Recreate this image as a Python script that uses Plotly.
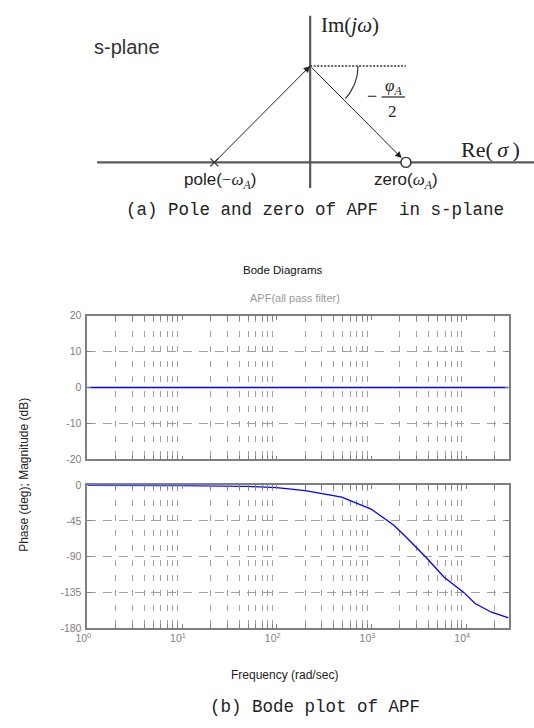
import numpy as np
import plotly.graph_objects as go

W, H = 534, 728

# ---------------- data ----------------
freq_mag = [1, 28000]
mag_db = [0, 0]

freq_phase = [1, 10, 50, 100, 200, 485, 990, 1710, 2260, 3780, 5850, 9420, 12400, 18500, 28000]
phase_deg = [0, -0.3, -1.5, -3, -6.7, -14.9, -30, -50, -64, -91, -116, -135, -149, -160, -167]

mag_ticks = [-20, -10, 0, 10, 20]
mag_tick_text = ["-20", "-10", "0", "10", "20"]
phase_ticks = [-180, -135, -90, -45, 0]
phase_tick_text = ["-180", "-135", "-90", "-45", "0"]
decade_vals = [1, 10, 100, 1000, 10000]
decade_text = ["10<sup>0</sup>", "10<sup>1</sup>", "10<sup>2</sup>", "10<sup>3</sup>", "10<sup>4</sup>"]
minor_vals = [m * d for d in [1, 10, 100, 1000, 10000] for m in range(2, 10)]

# s-plane diagram (normalised units)
pole_sigma = [-1]
zero_sigma = [1]
apex_omega = 1
real_axis_sigma = [-2.224, 2.337]
imag_axis_omega = [-0.265, 1.52]

# ---------------- helpers ----------------
def px(x):
    return x / W

def py(y):
    return 1 - y / H

fig = go.Figure()

# Bode magnitude
fig.add_trace(go.Scatter(x=freq_mag, y=mag_db, xaxis="x", yaxis="y", mode="lines",
                         line=dict(color="#0000ff", width=1.5), showlegend=False, hoverinfo="skip"))
# Bode phase
fig.add_trace(go.Scatter(x=freq_phase, y=phase_deg, xaxis="x2", yaxis="y2", mode="lines",
                         line=dict(color="#0000ff", width=1.3), showlegend=False, hoverinfo="skip"))

# s-plane axes
axcol = "#5a5a5a"
fig.add_trace(go.Scatter(x=real_axis_sigma, y=[0, 0], xaxis="x3", yaxis="y3", mode="lines",
                         line=dict(color=axcol, width=2.2), showlegend=False, hoverinfo="skip"))
fig.add_trace(go.Scatter(x=[0, 0], y=imag_axis_omega, xaxis="x3", yaxis="y3", mode="lines",
                         line=dict(color=axcol, width=2.2), showlegend=False, hoverinfo="skip"))
# dotted horizontal reference at apex
fig.add_trace(go.Scatter(x=[0, zero_sigma[0]], y=[apex_omega, apex_omega], xaxis="x3", yaxis="y3",
                         mode="lines", line=dict(color="#333333", width=1.3, dash="2px,1.5px"),
                         showlegend=False, hoverinfo="skip"))
# angle arc
ang = np.linspace(0, -np.pi / 4 * 0.95, 30)
r = 0.5
fig.add_trace(go.Scatter(x=r * np.cos(ang), y=apex_omega + r * np.sin(ang), xaxis="x3", yaxis="y3",
                         mode="lines", line=dict(color="#333333", width=1.2),
                         showlegend=False, hoverinfo="skip"))
# pole and zero
fig.add_trace(go.Scatter(x=pole_sigma, y=[0], xaxis="x3", yaxis="y3", mode="markers",
                         marker=dict(symbol="x-thin-open", size=8, color="#333333",
                                     line=dict(color="#333333", width=1.3)),
                         showlegend=False, hoverinfo="skip"))
fig.add_trace(go.Scatter(x=zero_sigma, y=[0], xaxis="x3", yaxis="y3", mode="markers",
                         marker=dict(symbol="circle", size=10, color="white",
                                     line=dict(color="#333333", width=1.4)),
                         showlegend=False, hoverinfo="skip"))

annotations = []
# arrows
annotations.append(dict(x=0, y=apex_omega, ax=pole_sigma[0], ay=0, xref="x3", yref="y3",
                        axref="x3", ayref="y3", text="", showarrow=True, arrowhead=2,
                        arrowsize=1.3, arrowwidth=1, arrowcolor="#222222", standoff=0))
annotations.append(dict(x=zero_sigma[0], y=0, ax=0, ay=apex_omega, xref="x3", yref="y3",
                        axref="x3", ayref="y3", text="", showarrow=True, arrowhead=2,
                        arrowsize=1.3, arrowwidth=1, arrowcolor="#222222", standoff=6))

serif = "Liberation Serif"
sans = "Liberation Sans, Arial"

def txt(text, x, y, size, family=sans, color="#222222", angle=0, xanchor="center"):
    annotations.append(dict(text=text, x=px(x), y=py(y), xref="paper", yref="paper",
                            showarrow=False, xanchor=xanchor, yanchor="middle",
                            font=dict(size=size, family=family, color=color), textangle=angle))

txt("s-plane", 118, 42, 20, color="#333333")
txt("Im(<i>jω</i>)", 346, 19, 21, family=serif, color="#222222")
txt("Re(\u2009<i>σ</i>\u2009)", 489, 146, 22, family=serif, color="#222222")
txt("pole(<span style='font-family:Liberation Serif'>−<i>ω</i><sub><i>A</i></sub></span>)",
    213, 178, 17, color="#222222")
txt("zero(<span style='font-family:Liberation Serif'><i>ω</i><sub><i>A</i></sub></span>)",
    403, 178, 17, color="#222222")
txt("−", 368, 91, 18, family=serif)
txt("<i>φ</i><sub><i>A</i></sub>", 390, 82, 17, family=serif)
txt("2", 389, 107, 17, family=serif)

mono = "Liberation Mono, DejaVu Sans Mono"
txt("(a) Pole and zero of APF \u00a0in s-plane", 310, 207, 17.5, family=mono, color="#222222")
txt("(b) Bode plot of APF", 310, 713, 17.5, family=mono, color="#222222")

txt("Bode Diagrams", 277, 268, 11.5, color="#111111")
txt("APF(all pass filter)", 290, 297, 11, color="#9a9a9a")
txt("Frequency (rad/sec)", 279, 680, 12, color="#222222")
txt("Phase (deg); Magnitude (dB)", 12, 477, 12, color="#222222", angle=-90)

shapes = [
    # fraction bar
    dict(type="line", xref="paper", yref="paper", x0=px(378), x1=px(402), y0=py(92.5), y1=py(92.5),
         line=dict(color="#222222", width=1.2)),
]

x_dom = [px(77), px(508)]
xrange = [0, np.log10(28000)]
gridcol = "#a0a0a0"
framecol = "#7f7f7f"
tickfont = dict(size=10.5, family=sans, color="#808080")

def xaxis_cfg(anchor, show_labels):
    return dict(domain=x_dom, type="log", range=xrange, anchor=anchor,
                showline=True, mirror="allticks", linecolor=framecol, linewidth=1.5,
                ticks="inside", ticklen=4, tickcolor=framecol,
                tickmode="array", tickvals=decade_vals, ticktext=decade_text,
                showticklabels=show_labels, tickfont=tickfont, ticklabelshift=-4,
                showgrid=False, zeroline=False,
                minor=dict(tickmode="array", tickvals=minor_vals, showgrid=True,
                           gridcolor=gridcol, gridwidth=1, griddash="6px,9px",
                           ticks="inside", ticklen=4, tickcolor=framecol))

def yaxis_cfg(anchor, dom, rng, vals, texts):
    return dict(domain=dom, range=rng, anchor=anchor,
                showline=True, mirror="allticks", linecolor=framecol, linewidth=1.5,
                ticks="inside", ticklen=4, tickcolor=framecol,
                tickmode="array", tickvals=vals, ticktext=texts, tickfont=tickfont,
                showgrid=True, gridcolor=gridcol, gridwidth=1, griddash="9px,7px",
                zeroline=False, ticklabelstandoff=2)

fig.update_layout(
    width=W, height=H, margin=dict(l=0, r=0, t=0, b=0),
    paper_bgcolor="white", plot_bgcolor="white", showlegend=False,
    xaxis=xaxis_cfg("y", False),
    yaxis=yaxis_cfg("x", [py(461), py(315)], [-20, 20], mag_ticks, mag_tick_text),
    xaxis2=xaxis_cfg("y2", True),
    yaxis2=yaxis_cfg("x2", [py(632.5), py(487.3)], [-180, 0], phase_ticks, phase_tick_text),
    xaxis3=dict(domain=[0, 1], range=[-305 / 98, (534 - 305) / 98], anchor="y3", visible=False,
                fixedrange=True),
    yaxis3=dict(domain=[py(200), 1], range=[(159 - 200) / 98, 159 / 98], anchor="x3", visible=False,
                fixedrange=True),
    annotations=annotations,
    shapes=shapes,
)

fig.write_html("out.html")
